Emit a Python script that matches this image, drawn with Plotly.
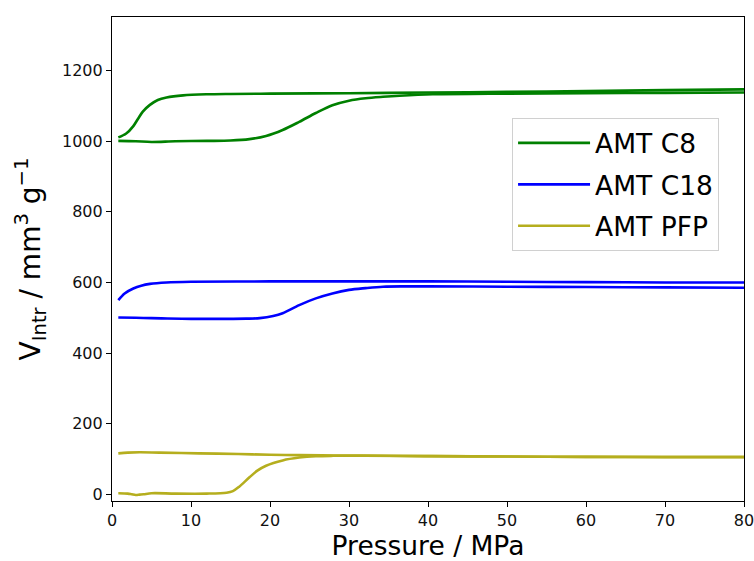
import plotly.graph_objects as go

# Pressure (MPa) and intrusion volume (mm^3/g) for each material,
# intrusion (lower) branch and extrusion (upper) branch.
c8_intr_p = [0.8, 3, 5, 8, 12, 15, 17.4, 19.5, 21.6, 23.7, 25.8, 27.9, 30.0, 32.1, 34.3, 36.4, 40.6, 50, 60, 70, 80]
c8_intr_v = [1001, 1000, 998, 1000, 1001, 1002, 1006, 1015, 1032, 1055, 1080, 1102, 1115, 1122, 1126, 1129, 1133, 1135, 1136, 1137, 1138]
c8_extr_p = [0.8, 1.8, 2.7, 3.3, 3.9, 4.8, 5.8, 6.9, 9.0, 12, 15, 20, 30, 40, 50, 60, 70, 80]
c8_extr_v = [1011, 1022, 1043, 1064, 1084, 1103, 1117, 1124, 1130, 1133, 1134, 1135, 1136, 1138, 1140, 1142, 1145, 1147]

c18_intr_p = [0.8, 3, 5, 7, 10, 14, 17, 18.7, 20.4, 21.6, 23.7, 25.8, 27.9, 30.0, 32.1, 34.3, 37, 40, 50, 60, 70, 80]
c18_intr_v = [501, 500, 499, 498, 497, 497, 497.5, 499, 505, 513, 536, 555, 569, 579, 584, 588, 589, 589, 588, 587, 586, 585]
c18_extr_p = [0.8, 1.6, 2.7, 3.7, 4.8, 6.9, 10, 20, 30, 40, 50, 60, 70, 80]
c18_extr_v = [550, 569, 583, 591, 596, 600, 602, 603, 603, 603, 602, 601, 600, 600]

pfp_intr_p = [0.8, 2, 2.5, 3, 3.5, 4, 5, 8, 12, 14.5, 15.3, 16.1, 17.4, 18.4, 19.5, 21.6, 23.7, 25.8, 28, 32, 40, 50, 60, 70, 80]
pfp_intr_v = [3, 2, 0, -2, -1, 0, 3, 2, 2, 4.5, 9, 21.5, 48, 67, 81, 96, 104, 108, 109, 109, 108, 107, 106, 105, 105]
pfp_extr_p = [0.8, 2, 3.5, 6, 11, 16, 20, 23.7, 28, 35, 40.6, 50, 60, 70, 80]
pfp_extr_v = [116, 118, 119, 118, 116, 114, 112, 111, 110, 109, 108, 107, 106, 106, 106]

series_names = ["AMT C8", "AMT C18", "AMT PFP"]
series_colors = ["#008000", "#0000ff", "#b5ae1e"]
series_data = [
    (c8_intr_p, c8_intr_v, c8_extr_p, c8_extr_v),
    (c18_intr_p, c18_intr_v, c18_extr_p, c18_extr_v),
    (pfp_intr_p, pfp_intr_v, pfp_extr_p, pfp_extr_v),
]

fig = go.Figure()
for name, color, (ip, iv, ep, ev) in zip(series_names, series_colors, series_data):
    # both branches in one trace, separated by a gap
    fig.add_trace(go.Scatter(
        x=ip + [None] + ep,
        y=iv + [None] + ev,
        mode="lines",
        name=name,
        legendgroup=name,
        connectgaps=False,
        line=dict(color=color, width=2.6, shape="spline", smoothing=0.9),
    ))

axis_common = dict(
    showline=True, mirror=True, linecolor="black", linewidth=1.2,
    ticks="outside", ticklen=5, tickwidth=1.2, tickcolor="black",
    showgrid=False, zeroline=False, automargin=False,
    ticklabeloverflow="allow",
    tickfont=dict(family="DejaVu Sans", size=16, color="#111"),
)

fig.update_layout(
    width=754, height=561,
    margin=dict(l=112, r=10, t=17, b=60),
    paper_bgcolor="white", plot_bgcolor="white",
    font=dict(family="DejaVu Sans", color="black"),
    xaxis=dict(range=[0, 80], dtick=10, **axis_common,
               title=dict(text="Pressure / MPa", font=dict(size=26.5, family="DejaVu Sans"), standoff=9)),
    yaxis=dict(range=[-19, 1352], tickvals=[0, 200, 400, 600, 800, 1000, 1200], **axis_common,
               title=dict(text="V<sub>Intr</sub> / mm<sup>3</sup> g<sup>\u22121</sup>",
                          font=dict(size=28, family="DejaVu Sans"), standoff=13)),
    legend=dict(
        x=0.633, y=0.791, xanchor="left", yanchor="top",
        bgcolor="white", bordercolor="#d0d0d0", borderwidth=1,
        font=dict(size=26.5, family="DejaVu Sans", color="black"),
        itemwidth=72, tracegroupgap=4, traceorder="grouped",
    ),
    showlegend=True,
)

fig.write_html("out.html")
